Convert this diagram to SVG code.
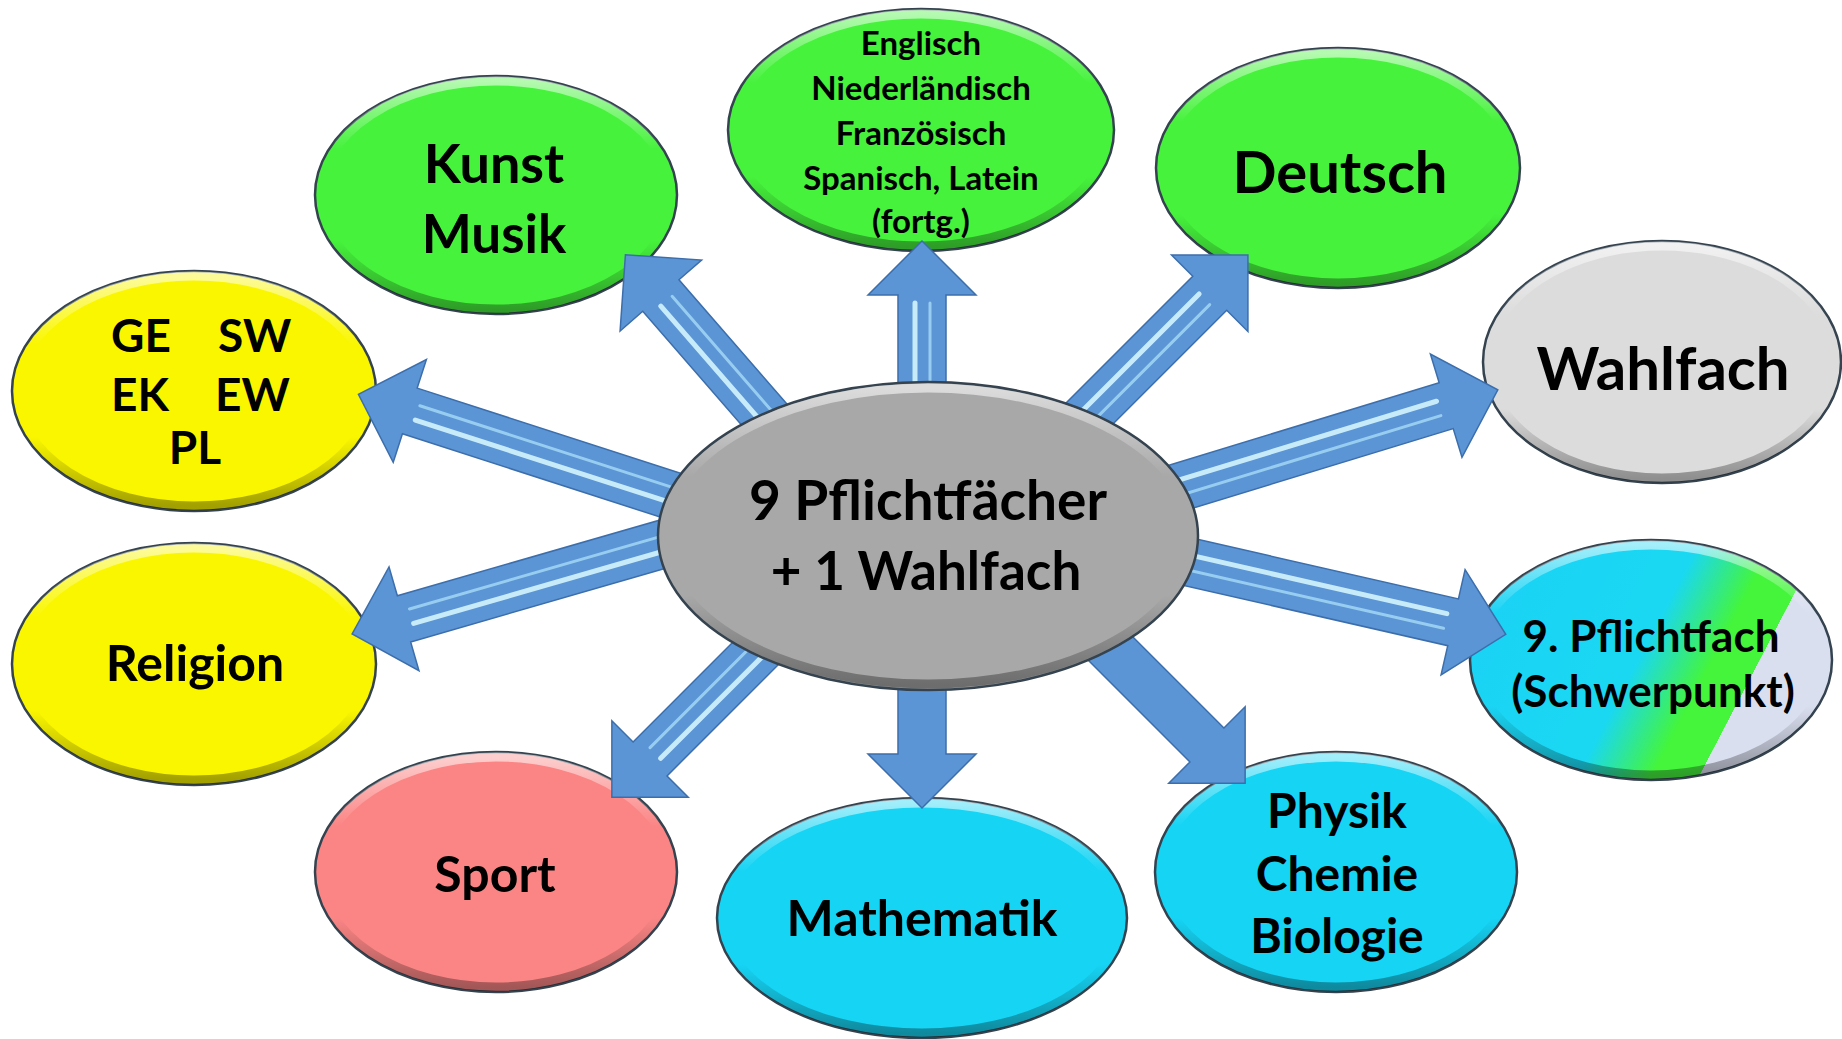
<svg xmlns="http://www.w3.org/2000/svg" width="1842" height="1039" viewBox="0 0 1842 1039">
<defs>
<style>
.node{stroke:#34434f;stroke-width:2.5}
.bev{fill:none;stroke:url(#bev);stroke-width:9}
.t{font-family:Lato,"Noto Sans","DejaVu Sans",sans-serif;font-weight:bold;fill:#000;text-anchor:middle}
.arr{fill:#5b95d5;stroke:#3c6eab;stroke-width:1.5;stroke-linejoin:miter}
.hl1{stroke:#d4f5ff;stroke-width:5;stroke-linecap:round;opacity:.9}
.hl2{stroke:#a6dcf7;stroke-width:3;stroke-linecap:round;opacity:.8}
</style>
<linearGradient id="bev" x1="0" y1="0" x2="0" y2="1">
<stop offset="0" stop-color="#fff" stop-opacity=".6"/>
<stop offset=".3" stop-color="#fff" stop-opacity="0"/>
<stop offset=".7" stop-color="#000" stop-opacity="0"/>
<stop offset="1" stop-color="#000" stop-opacity=".35"/>
</linearGradient>
<linearGradient id="mix" gradientUnits="userSpaceOnUse" x1="1420.8" y1="737.6" x2="1687.2" y2="876.6">
<stop offset="0" stop-color="#1ad3f5"/>
<stop offset=".52" stop-color="#1ad8f2"/>
<stop offset=".74" stop-color="#44f53c"/>
<stop offset=".88" stop-color="#44f53c"/>
<stop offset=".881" stop-color="#dadff0"/>
<stop offset="1" stop-color="#dadff0"/>
</linearGradient>
</defs>
<rect width="1842" height="1039" fill="#fff"/>

<g id="node-kunst">
<ellipse class="node" cx="496" cy="195" rx="181" ry="119" fill="#46f23c"/>
<ellipse class="bev" cx="496" cy="195" rx="176" ry="114"/>
<text class="t" x="494" y="183" font-size="54">Kunst</text>
<text class="t" x="494" y="253" font-size="53">Musik</text>
</g>
<g id="node-sprachen">
<ellipse class="node" cx="921" cy="130" rx="193" ry="121" fill="#46f23c"/>
<ellipse class="bev" cx="921" cy="130" rx="188" ry="116"/>
<text class="t" x="921" y="55" font-size="33">Englisch</text>
<text class="t" x="921" y="100" font-size="33">Niederländisch</text>
<text class="t" x="921" y="145" font-size="33">Französisch</text>
<text class="t" x="921" y="190" font-size="33">Spanisch, Latein</text>
<text class="t" x="921" y="233" font-size="33">(fortg.)</text>
</g>
<g id="node-deutsch">
<ellipse class="node" cx="1338" cy="168" rx="182" ry="120" fill="#46f23c"/>
<ellipse class="bev" cx="1338" cy="168" rx="177" ry="115"/>
<text class="t" x="1340" y="193" font-size="58">Deutsch</text>
</g>
<g id="node-wahlfach">
<ellipse class="node" cx="1662" cy="362" rx="179" ry="121" fill="#dcdcdc"/>
<ellipse class="bev" cx="1662" cy="362" rx="174" ry="116"/>
<text class="t" x="1663" y="390" font-size="60">Wahlfach</text>
</g>
<g id="node-pflichtfach9">
<ellipse class="node" cx="1651" cy="660" rx="181" ry="120" fill="url(#mix)"/>
<ellipse class="bev" cx="1651" cy="660" rx="176" ry="115"/>
<text class="t" x="1651" y="652" font-size="44">9. Pflichtfach</text>
<text class="t" x="1653" y="707" font-size="44">(Schwerpunkt)</text>
</g>
<g id="node-nw">
<ellipse class="node" cx="1336" cy="872" rx="181" ry="120" fill="#16d4f4"/>
<ellipse class="bev" cx="1336" cy="872" rx="176" ry="115"/>
<text class="t" x="1337" y="828" font-size="48">Physik</text>
<text class="t" x="1337" y="891" font-size="48">Chemie</text>
<text class="t" x="1337" y="953" font-size="48">Biologie</text>
</g>
<g id="node-mathe">
<ellipse class="node" cx="922" cy="918" rx="205" ry="120" fill="#16d4f4"/>
<ellipse class="bev" cx="922" cy="918" rx="200" ry="115"/>
<text class="t" x="922" y="936" font-size="50">Mathematik</text>
</g>
<g id="node-sport">
<ellipse class="node" cx="496" cy="872" rx="181" ry="120" fill="#fb8585"/>
<ellipse class="bev" cx="496" cy="872" rx="176" ry="115"/>
<text class="t" x="495" y="892" font-size="50">Sport</text>
</g>
<g id="node-religion">
<ellipse class="node" cx="194" cy="664" rx="182" ry="121" fill="#faf600"/>
<ellipse class="bev" cx="194" cy="664" rx="177" ry="116"/>
<text class="t" x="195" y="681" font-size="50">Religion</text>
</g>
<g id="node-gesellschaft">
<ellipse class="node" cx="194" cy="391" rx="182" ry="120" fill="#faf600"/>
<ellipse class="bev" cx="194" cy="391" rx="177" ry="115"/>
<text class="t" font-size="46" style="text-anchor:start"><tspan x="111" y="352">GE</tspan><tspan x="218" y="352">SW</tspan></text>
<text class="t" font-size="46" style="text-anchor:start"><tspan x="111" y="411">EK</tspan><tspan x="215" y="411">EW</tspan></text>
<text class="t" x="195" y="464" font-size="46">PL</text>
</g>

<g id="connectors">
<g transform="translate(796,451) rotate(-131)"><path class="arr" d="M0,-24 H206 V-54 L260,0 L206,54 V24 H0 Z"/><line class="hl1" x1="10" y1="-7" x2="198" y2="-7"/><line class="hl2" x1="10" y1="8" x2="198" y2="8"/></g>
<g transform="translate(922,440) rotate(-90)"><path class="arr" d="M0,-24 H145 V-54 L199,0 L145,54 V24 H0 Z"/><line class="hl1" x1="10" y1="-7" x2="137" y2="-7"/><line class="hl2" x1="10" y1="8" x2="137" y2="8"/></g>
<g transform="translate(1057,446) rotate(-45)"><path class="arr" d="M0,-24 H216 V-54 L270,0 L216,54 V24 H0 Z"/><line class="hl1" x1="10" y1="-7" x2="208" y2="-7"/><line class="hl2" x1="10" y1="8" x2="208" y2="8"/></g>
<g transform="translate(1144,498) rotate(-17)"><path class="arr" d="M0,-24 H316 V-54 L370,0 L316,54 V24 H0 Z"/><line class="hl1" x1="10" y1="-7" x2="308" y2="-7"/><line class="hl2" x1="10" y1="8" x2="308" y2="8"/></g>
<g transform="translate(1145,552) rotate(12.85)"><path class="arr" d="M0,-24 H316 V-54 L370,0 L316,54 V24 H0 Z"/><line class="hl1" x1="10" y1="-7" x2="308" y2="-7"/><line class="hl2" x1="10" y1="8" x2="308" y2="8"/></g>
<g transform="translate(1033,571) rotate(45)"><path class="arr" d="M0,-24 H246 V-54 L300,0 L246,54 V24 H0 Z"/></g>
<g transform="translate(922,628) rotate(90)"><path class="arr" d="M0,-24 H126 V-54 L180,0 L126,54 V24 H0 Z"/></g>
<g transform="translate(824,585) rotate(135)"><path class="arr" d="M0,-24 H246 V-54 L300,0 L246,54 V24 H0 Z"/><line class="hl1" x1="10" y1="-7" x2="238" y2="-7"/><line class="hl2" x1="10" y1="8" x2="238" y2="8"/></g>
<g transform="translate(698,534) rotate(163.9)"><path class="arr" d="M0,-24 H306 V-54 L360,0 L306,54 V24 H0 Z"/><line class="hl1" x1="10" y1="-7" x2="298" y2="-7"/><line class="hl2" x1="10" y1="8" x2="298" y2="8"/></g>
<g transform="translate(701,505) rotate(-162.1)"><path class="arr" d="M0,-24 H306 V-54 L360,0 L306,54 V24 H0 Z"/><line class="hl1" x1="10" y1="-7" x2="298" y2="-7"/><line class="hl2" x1="10" y1="8" x2="298" y2="8"/></g>
</g>

<g id="node-center">
<ellipse class="node" cx="928" cy="536" rx="270" ry="154" fill="#a8a8a8" stroke="#4a4a4a"/>
<ellipse class="bev" cx="928" cy="536" rx="264" ry="148"/>
<text class="t" x="928" y="520" font-size="55">9 Pflichtfächer</text>
<text class="t" x="926" y="590" font-size="53">+ 1 Wahlfach</text>
</g>
</svg>
